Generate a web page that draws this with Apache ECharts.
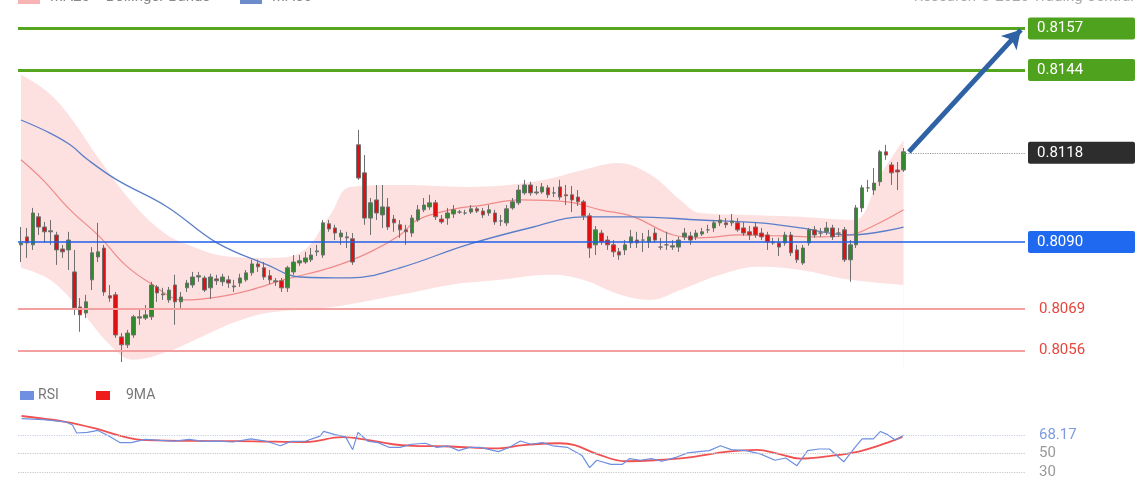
<!DOCTYPE html>
<html><head><meta charset="utf-8">
<script src="https://cdn.jsdelivr.net/npm/echarts@6/dist/echarts.min.js"></script>
<style>html,body{margin:0;padding:0;background:#fff}#c{width:1140px;height:500px}</style>
</head><body><div id="c"></div>
<script>
// OHLC: [open, close, low, high]
const candles = [
[0.80891,0.80897,0.80837,0.80947],[0.80916,0.80897,0.80850,0.80944],[0.80891,0.80991,0.80875,0.81007],[0.80979,0.80947,0.80922,0.80991],
[0.80947,0.80932,0.80897,0.80963],[0.80932,0.80935,0.80891,0.80969],[0.80922,0.80875,0.80828,0.80932],[0.80878,0.80869,0.80850,0.80891],
[0.80875,0.80906,0.80812,0.80932],[0.80806,0.80693,0.80671,0.80875],[0.80696,0.80671,0.80618,0.80724],[0.80677,0.80712,0.80661,0.80734],
[0.80781,0.80866,0.80749,0.80884],[0.80853,0.80869,0.80837,0.80960],[0.80881,0.80743,0.80731,0.80891],[0.80731,0.80724,0.80712,0.80765],
[0.80734,0.80608,0.80599,0.80743],[0.80602,0.80577,0.80523,0.80614],[0.80577,0.80614,0.80567,0.80624],[0.80608,0.80665,0.80599,0.80671],
[0.80661,0.80665,0.80640,0.80687],[0.80661,0.80671,0.80655,0.80702],[0.80665,0.80765,0.80655,0.80775],[0.80759,0.80740,0.80712,0.80765],
[0.80737,0.80734,0.80718,0.80756],[0.80718,0.80749,0.80709,0.80759],[0.80765,0.80712,0.80640,0.80797],[0.80712,0.80727,0.80687,0.80743],
[0.80756,0.80771,0.80743,0.80781],[0.80765,0.80790,0.80756,0.80806],[0.80790,0.80794,0.80775,0.80806],[0.80787,0.80749,0.80743,0.80794],
[0.80756,0.80790,0.80721,0.80800],[0.80784,0.80778,0.80765,0.80797],[0.80775,0.80790,0.80762,0.80800],[0.80781,0.80771,0.80756,0.80794],
[0.80759,0.80762,0.80743,0.80781],[0.80771,0.80787,0.80759,0.80800],[0.80781,0.80803,0.80775,0.80812],[0.80803,0.80831,0.80794,0.80844],
[0.80831,0.80822,0.80806,0.80844],[0.80819,0.80790,0.80781,0.80837],[0.80794,0.80781,0.80768,0.80812],[0.80775,0.80778,0.80762,0.80787],
[0.80778,0.80756,0.80743,0.80787],[0.80756,0.80819,0.80743,0.80825],[0.80806,0.80837,0.80797,0.80859],[0.80834,0.80841,0.80825,0.80859],
[0.80837,0.80850,0.80831,0.80869],[0.80844,0.80859,0.80837,0.80881],[0.80869,0.80872,0.80856,0.80891],[0.80859,0.80960,0.80850,0.80969],
[0.80957,0.80941,0.80932,0.80969],[0.80944,0.80928,0.80906,0.80954],[0.80916,0.80928,0.80891,0.80938],[0.80916,0.80913,0.80881,0.80932],
[0.80910,0.80837,0.80828,0.80928],[0.81205,0.81101,0.81095,0.81252],[0.81117,0.80975,0.80954,0.81173],[0.80975,0.81023,0.80922,0.81038],
[0.81032,0.80991,0.80969,0.81079],[0.80985,0.81010,0.80944,0.81079],[0.81010,0.80947,0.80938,0.81038],[0.80972,0.80960,0.80932,0.80985],
[0.80954,0.80938,0.80913,0.80969],[0.80938,0.80932,0.80891,0.80954],[0.80928,0.80975,0.80916,0.80985],[0.80969,0.81001,0.80963,0.81016],
[0.81001,0.81016,0.80994,0.81038],[0.81010,0.81023,0.81001,0.81048],[0.81023,0.80979,0.80969,0.81032],[0.80972,0.80963,0.80957,0.80985],
[0.80975,0.80991,0.80954,0.81007],[0.80988,0.81001,0.80975,0.81016],[0.80994,0.80994,0.80988,0.81001],[0.80991,0.80991,0.80985,0.81001],
[0.80994,0.81004,0.80988,0.81016],[0.81004,0.80997,0.80991,0.81010],[0.80997,0.80985,0.80975,0.81007],[0.80991,0.81001,0.80982,0.81016],
[0.80991,0.80963,0.80954,0.81001],[0.80966,0.80966,0.80950,0.80985],[0.80960,0.81004,0.80950,0.81016],[0.81007,0.81026,0.81001,0.81038],
[0.81023,0.81063,0.81016,0.81079],[0.81054,0.81079,0.81048,0.81095],[0.81079,0.81054,0.81045,0.81089],[0.81054,0.81057,0.81048,0.81076],
[0.81057,0.81073,0.81051,0.81085],[0.81070,0.81048,0.81038,0.81079],[0.81054,0.81054,0.81041,0.81073],[0.81073,0.81041,0.81032,0.81095],
[0.81048,0.81045,0.81016,0.81079],[0.81048,0.81032,0.80994,0.81076],[0.81041,0.81026,0.81013,0.81063],[0.81026,0.80982,0.80969,0.81032],
[0.80982,0.80881,0.80850,0.80991],[0.80891,0.80938,0.80859,0.80950],[0.80928,0.80900,0.80891,0.80938],[0.80906,0.80891,0.80875,0.80919],
[0.80891,0.80869,0.80853,0.80906],[0.80869,0.80859,0.80844,0.80881],[0.80875,0.80891,0.80859,0.80906],[0.80897,0.80916,0.80881,0.80938],
[0.80906,0.80897,0.80881,0.80932],[0.80906,0.80906,0.80869,0.80928],[0.80900,0.80916,0.80881,0.80938],[0.80928,0.80906,0.80897,0.80944],
[0.80884,0.80884,0.80875,0.80913],[0.80891,0.80891,0.80875,0.80932],[0.80884,0.80888,0.80875,0.80906],[0.80884,0.80906,0.80869,0.80916],
[0.80916,0.80928,0.80906,0.80944],[0.80919,0.80906,0.80891,0.80932],[0.80916,0.80928,0.80906,0.80938],[0.80925,0.80932,0.80919,0.80944],
[0.80938,0.80938,0.80928,0.80954],[0.80944,0.80960,0.80932,0.80969],[0.80960,0.80969,0.80950,0.80985],[0.80960,0.80954,0.80944,0.80975],
[0.80960,0.80966,0.80950,0.80988],[0.80960,0.80938,0.80932,0.80975],[0.80944,0.80928,0.80919,0.80963],[0.80932,0.80922,0.80906,0.80950],
[0.80947,0.80922,0.80913,0.80963],[0.80928,0.80916,0.80906,0.80944],[0.80922,0.80900,0.80875,0.80932],[0.80900,0.80897,0.80891,0.80913],
[0.80897,0.80884,0.80856,0.80913],[0.80897,0.80922,0.80888,0.80932],[0.80922,0.80866,0.80856,0.80932],[0.80875,0.80844,0.80834,0.80891],
[0.80834,0.80881,0.80828,0.80891],[0.80897,0.80938,0.80888,0.80944],[0.80938,0.80922,0.80913,0.80950],[0.80928,0.80928,0.80916,0.80944],
[0.80932,0.80944,0.80922,0.80963],[0.80944,0.80916,0.80906,0.80954],[0.80928,0.80928,0.80916,0.80944],[0.80938,0.80844,0.80837,0.80947],
[0.80844,0.80891,0.80775,0.80906],[0.80891,0.81007,0.80881,0.81016],[0.81007,0.81070,0.80994,0.81079],[0.81070,0.81070,0.81057,0.81095],
[0.81063,0.81085,0.81048,0.81132],[0.81089,0.81183,0.81076,0.81189],[0.81183,0.81173,0.81158,0.81205],[0.81142,0.81117,0.81079,0.81151],
[0.81126,0.81120,0.81063,0.81151],[0.81126,0.81183,0.81120,0.81195]
];
const slots = 170;
const categories = Array.from({length: slots}, (_, i) => String(i));
const ma20 = [[0,0.81158],[3.7,0.81095],[8.3,0.81001],[13.3,0.80916],[17.6,0.80828],[21.8,0.80771],[27.4,0.80718],[33.1,0.80727],[38.7,0.80749],[44.3,0.80781],[52.7,0.80822],[59,0.80869],[64,0.80922],[66.9,0.80969],[72.5,0.81001],[78,0.81016],[84.3,0.81032],[92.2,0.81026],[97.8,0.81001],[103.4,0.80979],[110.1,0.80922],[114.7,0.80913],[121.5,0.80922],[128.2,0.80919],[135,0.80916],[140,0.80922],[144.3,0.80954],[149,0.81001]];
const ma50 = [[0,0.81283],[4.9,0.81242],[8.3,0.81205],[11.3,0.81158],[16.2,0.81095],[24.7,0.81010],[33.1,0.80897],[41.6,0.80828],[47.1,0.80790],[55.6,0.80787],[64,0.80819],[75.3,0.80891],[86.5,0.80947],[94.9,0.80979],[103.4,0.80979],[114.7,0.80969],[124.8,0.80960],[131.6,0.80944],[140,0.80922],[149,0.80947]];
const bbUpper = [[0,0.81425],[4.1,0.81377],[7.8,0.81305],[13.3,0.81158],[18.4,0.81032],[23.5,0.80938],[27.4,0.80897],[35.8,0.80853],[42.1,0.80850],[47.1,0.80866],[52.2,0.80985],[55.6,0.81073],[64,0.81079],[75.3,0.81073],[86.5,0.81089],[94.9,0.81126],[100.7,0.81148],[106.3,0.81111],[111.3,0.81032],[114.7,0.80991],[123.1,0.80985],[131.6,0.80979],[140.5,0.80969],[145.1,0.81111],[149,0.81220]];
const bbLower = [[0,0.80819],[4.9,0.80781],[10,0.80687],[15,0.80577],[18.9,0.80530],[24.7,0.80555],[30.2,0.80599],[35.8,0.80646],[41.6,0.80677],[52.7,0.80696],[64,0.80734],[72.5,0.80765],[80.9,0.80781],[89.4,0.80797],[94.9,0.80781],[101.2,0.80734],[106.3,0.80718],[111.3,0.80749],[118.1,0.80797],[124.8,0.80822],[131.6,0.80812],[140,0.80781],[149,0.80765]];
const rsi = [[0.1,85.3],[3.8,84.3],[7.5,82.0],[8.7,78.7],[9.4,70.5],[11.2,71.1],[13,73.1],[14.9,67.2],[16.7,60.6],[18.6,60.6],[21,63.9],[23.5,62.9],[25.9,62.2],[28.4,63.9],[30.8,61.9],[33.3,62.2],[35.8,61.2],[38.8,64.5],[41.3,62.2],[43.8,57.3],[45.6,61.9],[48.1,62.2],[50.5,67.2],[51.1,72.1],[53,68.8],[54.8,66.5],[56,53.3],[56.9,71.1],[58.5,62.2],[60.3,60.6],[62.2,55.6],[64,55.6],[65.9,58.9],[68.3,59.9],[70.2,55.6],[72,57.3],[73.9,52.3],[75.7,55.6],[77.5,55.6],[80.6,51.3],[82.4,55.6],[84.3,62.2],[86.1,58.9],[88,60.6],[89.8,57.3],[92.3,55.6],[94.7,47.4],[96,34.8],[97.2,42.4],[99.6,38.1],[101.5,38.1],[102.7,44.1],[104.6,42.4],[106.4,44.1],[108.2,41.4],[110.7,45.7],[112.6,50],[114.4,51.3],[116.2,52.3],[118.1,57.3],[119.9,53.3],[122.4,52.3],[124.8,49.0],[127.3,42.4],[129.1,44.7],[131,36.8],[132.8,52.3],[134.7,54.0],[136.5,54.0],[138.9,40.8],[140.8,55.6],[142,64.5],[143.9,64.5],[145.1,72.1],[146.3,68.8],[147.6,63.2],[149,68.17]];
const rsiMA = [[0.1,88],[7.5,82.0],[12.4,75.4],[17.5,66.5],[21,63.2],[33.3,62.2],[39.5,61.9],[48.1,61.2],[54.2,66.2],[57.9,63.9],[62.8,58.9],[66.5,57.3],[72.6,56.6],[80,54.6],[84.9,57.9],[91,59.9],[93.5,57.9],[97.2,49.0],[102.1,41.4],[107,42.4],[113.2,45.7],[119.3,51.3],[124.2,53.0],[127.9,49.0],[131.6,44.1],[136.5,46.7],[141.4,51.3],[146.3,60.6],[148.8,66.5]];
const greenLevels = [0.8157, 0.8144];
const blueLevel = 0.8090;
const redLevels = [0.8069, 0.8056];
const lastPrice = 0.8118;
const rsiLast = 68.17;
const rsiLevels = [50, 30];
const arrowFrom = [149.9, 0.81183], arrowTo = [168.8, 0.81566];

const FONT = 'Roboto, "Liberation Sans", sans-serif';
function boxLabel(bg, txt){
  return {show:true, position:'end', distance:3, formatter:txt, color:'#fff', fontSize:15, fontFamily:FONT,
    backgroundColor:bg, padding:[4,4,3,9], width:94, borderRadius:2, align:'left'};
}
function hline(v, style, label){
  return [{coord:[-0.5, v], lineStyle:style, label:label},{coord:[slots-0.5, v]}];
}
const markLines = [
  ...greenLevels.map(v=>hline(v, {color:'#55a61e', width:3, type:'solid'}, boxLabel('#4ea21d', v.toFixed(4)))),
  hline(blueLevel, {color:'#1f5fe8', width:1.5, type:'solid'}, boxLabel('#1f68f0', blueLevel.toFixed(4))),
  ...redLevels.map(v=>hline(v, {color:'#f3a0a0', width:2, type:'solid'}, {show:true, position:'end', distance:14, formatter:v.toFixed(4), color:'#e8463c', fontSize:15, fontFamily:FONT})),
  [{coord:[149, lastPrice], lineStyle:{color:'#999', width:1.2, type:'dotted'}, label:boxLabel('#2d2d2d', lastPrice.toFixed(4))},{coord:[slots-0.5, lastPrice]}],
  [{coord:arrowFrom, symbol:'none', lineStyle:{color:'#2f62a5', width:5, type:'solid'}, label:{show:false}},{coord:arrowTo, symbol:'arrow', symbolSize:[16,18]}]
];
const rsiLines = [
  {yAxis:rsiLast, lineStyle:{color:'#c5cde0', width:1.2, type:'dotted'}, label:{show:true, position:'end', distance:14, formatter:rsiLast.toFixed(2), color:'#7d9be0', fontSize:15, fontFamily:FONT}},
  ...rsiLevels.map(v=>({yAxis:v, lineStyle:{color:'#c8c8c8', width:1.2, type:'dotted'}, label:{show:true, position:'end', distance:14, formatter:String(v), color:'#999', fontSize:15, fontFamily:FONT}}))
];
const chart = echarts.init(document.getElementById('c'));
chart.setOption({
  animation:false, backgroundColor:'#fff',
  grid:[{left:18, right:115, top:20, height:350},{left:18, right:115, top:416, height:66}],
  xAxis:[
    {type:'category', data:categories, gridIndex:0, show:false, boundaryGap:true},
    {type:'value', gridIndex:0, min:-0.5, max:slots-0.5, show:false},
    {type:'value', gridIndex:1, min:-0.5, max:slots-0.5, show:false}
  ],
  yAxis:[
    {type:'value', gridIndex:0, min:0.80498, max:0.81597, show:false, splitLine:{show:false}},
    {type:'value', gridIndex:1, min:20, max:88, show:false, splitLine:{show:false}}
  ],
  series:[
    {type:'line', xAxisIndex:1, yAxisIndex:0, data:bbUpper, smooth:0.4, symbol:'none', z:1, lineStyle:{width:0, opacity:0}, areaStyle:{color:'#fde1e1', opacity:1, origin:'start'}},
    {type:'line', xAxisIndex:1, yAxisIndex:0, data:bbLower, smooth:0.4, symbol:'none', z:2, lineStyle:{width:0, opacity:0}, areaStyle:{color:'#ffffff', opacity:1, origin:'start'}},
    {type:'line', xAxisIndex:1, yAxisIndex:0, data:ma20, smooth:0.4, symbol:'none', z:3, lineStyle:{color:'#f08a8a', width:1.2}},
    {type:'line', xAxisIndex:1, yAxisIndex:0, data:ma50, smooth:0.4, symbol:'none', z:3, lineStyle:{color:'#5a7fc8', width:1.3}},
    {type:'candlestick', xAxisIndex:0, yAxisIndex:0, data:candles, barWidth:4, z:5,
      itemStyle:{color:'#2e8a2a', color0:'#e01010', borderColor:'#6f6f6f', borderColor0:'#6f6f6f', borderWidth:1}},
    {type:'line', xAxisIndex:1, yAxisIndex:0, data:[], symbol:'none', z:6,
      markLine:{silent:true, symbol:'none', z:6, data:markLines}},
    {type:'line', xAxisIndex:2, yAxisIndex:1, data:rsi, symbol:'none', z:4, lineStyle:{color:'#6f8fe0', width:1.2},
      markLine:{silent:true, symbol:'none', data:rsiLines}},
    {type:'line', xAxisIndex:2, yAxisIndex:1, data:rsiMA, smooth:0.4, symbol:'none', z:3, lineStyle:{color:'#f05050', width:1.8}}
  ],
  graphic:[
    {type:'rect', left:18, top:-6, shape:{width:22, height:10}, style:{fill:'#f8b4b4'}},
    {type:'text', left:50, top:-10, style:{text:'MA20 + Bollinger Bands', fill:'#888', font:'15px '+FONT}},
    {type:'rect', left:240, top:-6, shape:{width:22, height:10}, style:{fill:'#6d8ccc'}},
    {type:'text', left:272, top:-10, style:{text:'MA50', fill:'#888', font:'15px '+FONT}},
    {type:'text', right:6, top:-10, style:{text:'Research © 2020 Trading Central', fill:'#aaa', font:'15px '+FONT}},
    {type:'rect', left:20, top:391, shape:{width:14, height:9}, style:{fill:'#6f8fe0'}},
    {type:'text', left:38, top:388, style:{text:'RSI', fill:'#777', font:'14px '+FONT}},
    {type:'rect', left:96, top:391, shape:{width:14, height:9}, style:{fill:'#ee1c1c'}},
    {type:'text', left:126, top:388, style:{text:'9MA', fill:'#777', font:'14px '+FONT}}
  ]
});
</script></body></html>
